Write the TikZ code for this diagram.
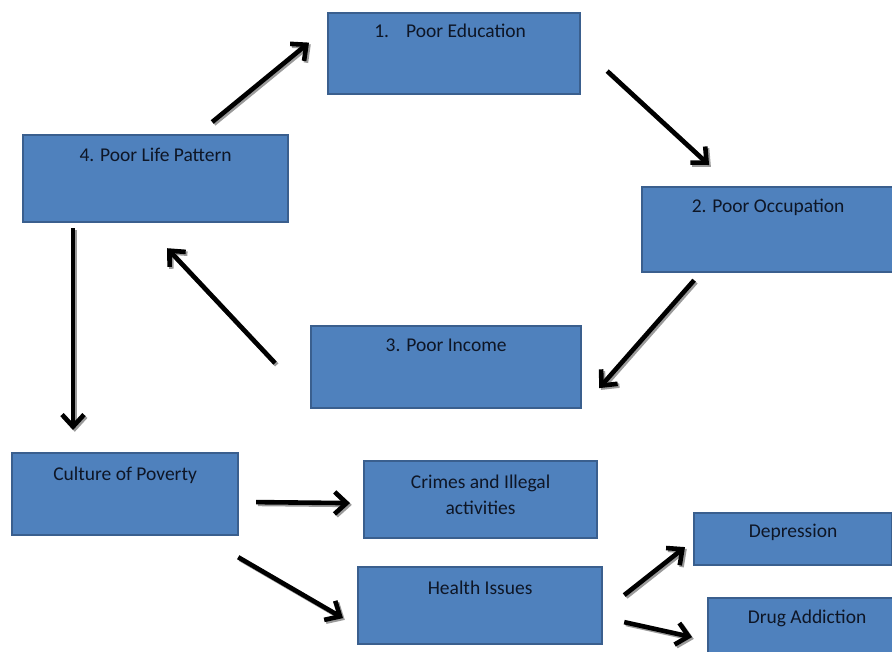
\documentclass[tikz,border=0pt]{standalone}
\usepackage{fontspec}
\setmainfont{Carlito}
\usetikzlibrary{arrows.meta,calc}

\definecolor{boxfill}{HTML}{4F81BD}
\definecolor{boxline}{HTML}{3A5F8E}
\definecolor{boxtext}{HTML}{0E1626}
\definecolor{shade}{HTML}{9A9A9A}

\tikzset{
  box/.style={draw=boxline, line width=2.2pt, fill=boxfill, rectangle,
    anchor=north west, inner sep=0pt},
  caption/.style={text=boxtext, font=\fontsize{19.5}{24}\selectfont, align=center},
  flow/.style={line width=4.6pt, -{Straight Barb[length=12pt,width=22pt]},
    preaction={draw=shade, line width=4.6pt, -{Straight Barb[length=12pt,width=22pt]},
      transform canvas={shift={(1.8pt,-1.8pt)}}}}
}

\begin{document}
\begin{tikzpicture}[x=1pt, y=-1pt]
  \useasboundingbox (0,0) rectangle (892,651);
  \clip (0,0) rectangle (892,651);

  % the cycle of poverty
  \node[box, minimum width=252pt, minimum height=81pt,
    label={[caption, anchor=center, yshift=-19pt, xshift=-4pt]north:{1.\hspace{17pt}Poor Education}}]
    (edu) at (327,12) {};
  \node[box, minimum width=252pt, minimum height=85pt,
    label={[caption, anchor=center, yshift=-21pt]north:{2. Poor Occupation}}]
    (occ) at (641,186) {};
  \node[box, minimum width=270pt, minimum height=82pt,
    label={[caption, anchor=center, yshift=-20pt]north:{3. Poor Income}}]
    (inc) at (310,325) {};
  \node[box, minimum width=265pt, minimum height=87pt,
    label={[caption, anchor=center, yshift=-21pt]north:{4. Poor Life Pattern}}]
    (life) at (22,134) {};

  % consequences
  \node[box, minimum width=226pt, minimum height=82pt,
    label={[caption, anchor=center, yshift=-23pt]north:{Culture of Poverty}}]
    (cult) at (11,452) {};
  \node[box, minimum width=233pt, minimum height=77pt,
    label={[caption, anchor=center, yshift=-35pt]north:{Crimes and Illegal\\[2pt]activities}}]
    (crime) at (363,460) {};
  \node[box, minimum width=244pt, minimum height=77pt,
    label={[caption, anchor=center, yshift=-22pt]north:{Health Issues}}]
    (health) at (357,566) {};
  \node[box, minimum width=198pt, minimum height=52pt,
    label={[caption, anchor=center, yshift=-20pt]north:{Depression}}]
    (dep) at (693,512) {};
  \node[box, minimum width=198pt, minimum height=68pt,
    label={[caption, anchor=center, yshift=-21pt]north:{Drug Addiction}}]
    (drug) at (707,597) {};

  % arrows between the boxes
  \draw[flow] ([shift={(-77,-12)}]life.north east) -- ([shift={(-18,-11)}]edu.west);
  \draw[flow] ([shift={(26,17.5)}]edu.east) -- ([shift={(-59,-21)}]occ.north);
  \draw[flow] ([shift={(-74,7)}]occ.south) -- ([shift={(17,21)}]inc.east);
  \draw[flow] ([shift={(-35,-4)}]inc.west) -- ([shift={(11.5,25)}]life.south);
  \draw[flow] ([shift={(51,5)}]life.south west) -- ([shift={(62,-22)}]cult.north west);
  \draw[flow] ([shift={(17,8)}]cult.east) -- ([shift={(-13,3.5)}]crime.west);
  \draw[flow] ([shift={(-1,21)}]cult.south east) -- ([shift={(-14,12.5)}]health.west);
  \draw[flow] ([shift={(21,-10.5)}]health.east) -- ([shift={(-8,8)}]dep.west);
  \draw[flow] ([shift={(21,16.5)}]health.east) -- ([shift={(-15,5)}]drug.west);
\end{tikzpicture}
\end{document}
